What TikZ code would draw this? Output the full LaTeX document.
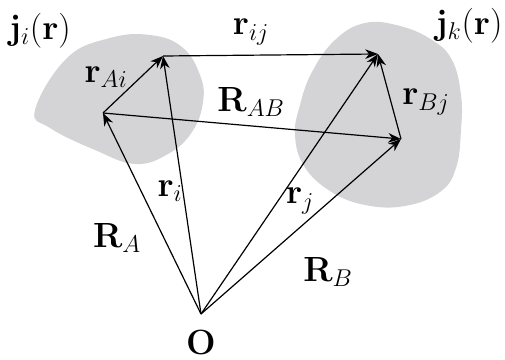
\documentclass[tikz,border=0pt]{standalone}
\usepackage{amsmath,amssymb}
\usepackage{xcolor}
\usepackage{tikz}
\usetikzlibrary{arrows.meta}
\definecolor{blobgray}{RGB}{212,212,214}
\tikzset{
  vec/.style={line width=0.85pt,-{Stealth[length=3.2mm,width=2.4mm,inset=1mm]}},
  blob/.style={fill=blobgray,draw=none},
  lbl/.style={inner sep=0pt}
}

\begin{document}
\begin{tikzpicture}[x=0.025cm,y=-0.025cm,font=\fontsize{26}{30}\selectfont]
  \useasboundingbox (0,0) rectangle (505,360);
  % the two current regions
  \fill[blob] plot[smooth cycle,tension=0.7] coordinates {
    (35,110) (67,58) (110,38) (150,35) (182,47) (200,75) (203,102)
    (192,132) (168,154) (135,164) (95,150) (50,128)};
  \fill[blob] plot[smooth cycle,tension=0.7] coordinates {
    (365,23) (400,26) (432,40) (452,60) (461,95) (461,130) (456,168)
    (440,192) (405,206) (365,205) (330,191) (304,166)
    (295,135) (300,105) (312,72) (335,40)};
  % origin, region centres and the two points
  \coordinate (O) at (201,314);
  \coordinate (A) at (103,113);
  \coordinate (B) at (401,139);
  \coordinate (ri) at (163,56);
  \coordinate (rj) at (378,54);
  % vectors
  \draw[vec] (O) -- (A);
  \draw[vec] (O) -- (ri);
  \draw[vec] (O) -- (rj);
  \draw[vec] (O) -- (B);
  \draw[vec] (A) -- (ri);
  \draw[vec] (ri) -- (rj);
  \draw[vec] (A) -- (B);
  \draw[vec] (B) -- (rj);
  % labels
  \node[lbl] (jiname) at (40,31) {$\mathbf{j}_i(\mathbf{r})$};
  \node[lbl] (jkname) at (469,26) {$\mathbf{j}_k(\mathbf{r})$};
  \node[lbl] (rijname) at (251,32) {$\mathbf{r}_{ij}$};
  \node[lbl] (rAiname) at (106,77) {$\mathbf{r}_{Ai}$};
  \node[lbl] (RABname) at (251,102) {$\mathbf{R}_{AB}$};
  \node[lbl] (rBjname) at (426,102) {$\mathbf{r}_{Bj}$};
  \node[lbl] (riname) at (170,191) {$\mathbf{r}_i$};
  \node[lbl] (rjname) at (300,201) {$\mathbf{r}_j$};
  \node[lbl] (RAname) at (117,238) {$\mathbf{R}_A$};
  \node[lbl] (RBname) at (328,272) {$\mathbf{R}_B$};
  \node[lbl] (Oname) at (201,342) {$\mathbf{O}$};
\end{tikzpicture}
\end{document}
